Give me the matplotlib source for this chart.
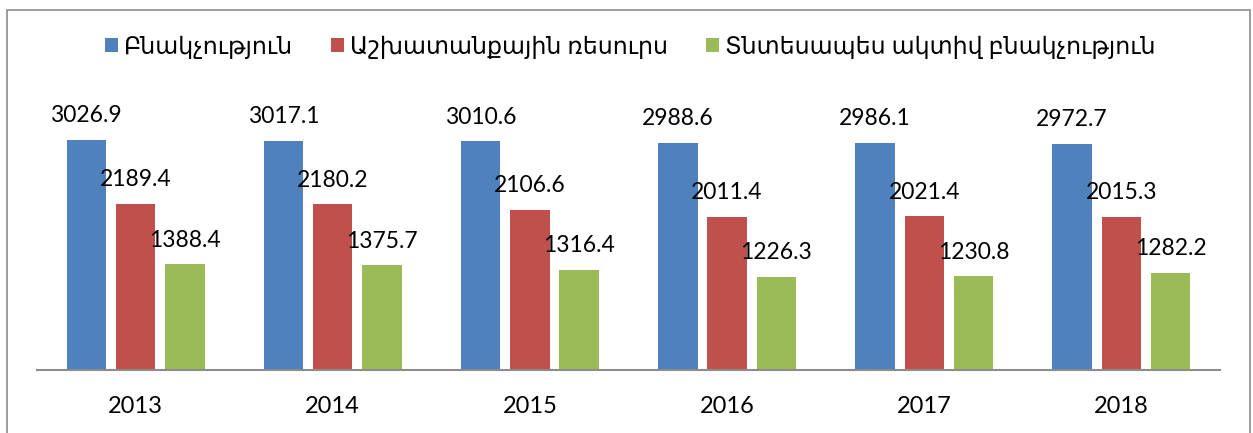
import matplotlib.pyplot as plt
import matplotlib.patches as mpatches
import numpy as np

years = ["2013", "2014", "2015", "2016", "2017", "2018"]
population = [3026.9, 3017.1, 3010.6, 2988.6, 2986.1, 2972.7]
labour = [2189.4, 2180.2, 2106.6, 2011.4, 2021.4, 2015.3]
active = [1388.4, 1375.7, 1316.4, 1226.3, 1230.8, 1282.2]
series_names = ["Բնակչություն", "Աշխատանքային ռեսուրս", "Տնտեսապես ակտիվ բնակչություն"]
colors = ["#4F81BD", "#C0504D", "#9BBB59"]

plt.rcParams["font.family"] = ["Lato", "DejaVu Sans"]

W, H = 1253, 433
fig = plt.figure(figsize=(W / 100, H / 100), dpi=100)

# outer chart frame (bottom edge cut off in the original)
fig.patches.append(mpatches.Rectangle((7 / W, -0.05), (1250 - 7) / W, 1.05 - 10 / H,
                                      transform=fig.transFigure, fill=False,
                                      edgecolor="#8c8c8c", linewidth=1.2))

ax = fig.add_axes([37 / W, (H - 370) / H, (1220 - 37) / W, 280 / H])

x = np.arange(len(years))
bw = 0.2
gap = 0.05
for i, (vals, name, c) in enumerate(zip([population, labour, active], series_names, colors)):
    pos = x + (i - 1) * (bw + gap)
    bars = ax.bar(pos, vals, width=bw, color=c, label=name)
    for b, v in zip(bars, vals):
        ax.text(b.get_x() + b.get_width() / 2, v + 180, f"{v:.1f}",
                ha="center", va="bottom", fontsize=16.5)

ax.set_xlim(-0.5, len(years) - 0.5)
ax.set_ylim(0, 3684)
ax.set_xticks(x)
ax.set_xticklabels(years, fontsize=17)
ax.tick_params(axis="x", length=0, pad=19)
ax.set_yticks([])
for s in ["top", "right", "left"]:
    ax.spines[s].set_visible(False)
ax.spines["bottom"].set_color("#8c8c8c")
ax.spines["bottom"].set_linewidth(1.5)

fig.legend(loc="center", bbox_to_anchor=(0.503, 1 - 47 / H), ncol=3, frameon=False,
           fontsize=17, handlelength=0.55, handleheight=0.55, handletextpad=0.25,
           columnspacing=1.6)

fig.savefig("out.png", dpi=100)
